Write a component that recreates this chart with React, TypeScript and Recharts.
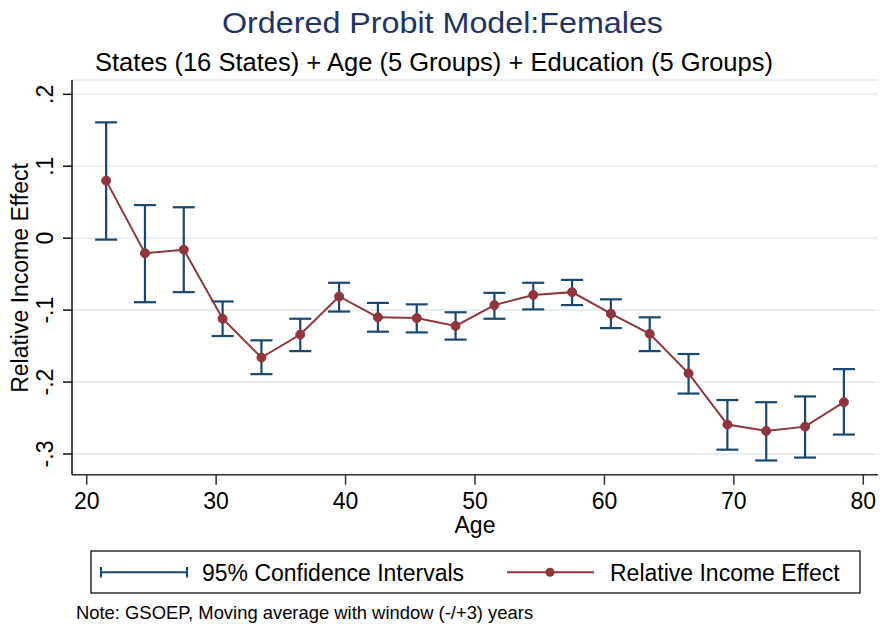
import { ComposedChart, Line, ErrorBar, XAxis, YAxis, CartesianGrid } from "recharts";

const ages = [21.5, 24.5, 27.5, 30.5, 33.5, 36.5, 39.5, 42.5, 45.5, 48.5, 51.5, 54.5, 57.5, 60.5, 63.5, 66.5, 69.5, 72.5, 75.5, 78.5];
const effect = [0.080, -0.021, -0.016, -0.112, -0.166, -0.134, -0.081, -0.110, -0.111, -0.122, -0.093, -0.079, -0.075, -0.105, -0.133, -0.188, -0.259, -0.268, -0.262, -0.228];
const ciLow = [-0.002, -0.089, -0.075, -0.136, -0.189, -0.157, -0.102, -0.130, -0.131, -0.141, -0.112, -0.099, -0.093, -0.125, -0.157, -0.216, -0.294, -0.309, -0.305, -0.273];
const ciHigh = [0.161, 0.046, 0.043, -0.088, -0.142, -0.112, -0.062, -0.090, -0.092, -0.103, -0.076, -0.062, -0.058, -0.085, -0.110, -0.161, -0.225, -0.228, -0.220, -0.182];

const xTicks = [20, 30, 40, 50, 60, 70, 80];
const yTicks = [0.2, 0.1, 0, -0.1, -0.2, -0.3];

const data = ages.map((age, i) => ({
  age,
  effect: effect[i],
  err: [effect[i] - ciLow[i], ciHigh[i] - effect[i]],
}));

const FONT = "'Liberation Sans', Arial, sans-serif";
const NAVY = "#1a476f";
const MAROON = "#90353b";

const fmtY = (v: number) => {
  if (Math.abs(v) < 1e-9) return "0";
  return (v < 0 ? "-" : "") + "." + Math.round(Math.abs(v) * 10);
};

// stata style: y tick labels are turned on their side
const YTick = (props: any) => {
  const { x, y, payload } = props;
  return (
    <text
      x={x}
      y={y}
      transform={`rotate(-90 ${x} ${y})`}
      textAnchor="middle"
      fontSize={23}
      fontFamily={FONT}
      fill="#000"
    >
      {fmtY(payload.value)}
    </text>
  );
};

export default function App() {
  return (
    <div style={{ position: "absolute", left: 0, top: 0, width: 882, height: 630, background: "#fff" }}>
      <ComposedChart
        width={882}
        height={630}
        data={data}
        margin={{ top: 80, right: 4, bottom: 95, left: 0 }}
      >
        <CartesianGrid vertical={false} stroke="#e6eff2" strokeWidth={2} />
        <XAxis
          dataKey="age"
          type="number"
          domain={[18.864, 81.136]}
          ticks={xTicks}
          allowDataOverflow
          height={60.3}
          tickSize={10}
          tickMargin={8}
          axisLine={{ stroke: "#333", strokeWidth: 1.5 }}
          tickLine={{ stroke: "#333", strokeWidth: 1.5 }}
          tick={{ fontSize: 23, fill: "#000", fontFamily: FONT }}
        />
        <YAxis
          type="number"
          domain={[-0.3288, 0.2199]}
          ticks={yTicks}
          allowDataOverflow
          width={72}
          tickSize={9}
          tickMargin={10}
          axisLine={{ stroke: "#111", strokeWidth: 1.5 }}
          tickLine={{ stroke: "#111", strokeWidth: 1.5 }}
          tick={<YTick />}
        />
        {/* CI bars drawn first so the line sits on top */}
        <Line dataKey="effect" stroke="none" dot={false} activeDot={false} isAnimationActive={false}>
          <ErrorBar dataKey="err" width={11} strokeWidth={2.2} stroke={NAVY} direction="y" isAnimationActive={false} />
        </Line>
        <Line
          dataKey="effect"
          stroke={MAROON}
          strokeWidth={2}
          dot={{ r: 4.5, fill: MAROON, stroke: MAROON, strokeWidth: 1 }}
          activeDot={false}
          isAnimationActive={false}
        />
      </ComposedChart>

      <svg
        width={882}
        height={630}
        style={{ position: "absolute", left: 0, top: 0, pointerEvents: "none" }}
        fontFamily={FONT}
      >
        <text x={442.5} y={33} textAnchor="middle" fontSize={29} fill="#1f3460" textLength={441} lengthAdjust="spacingAndGlyphs">
          Ordered Probit Model:Females
        </text>
        <text x={434} y={71} textAnchor="middle" fontSize={25} fill="#000" textLength={678} lengthAdjust="spacingAndGlyphs">
          States (16 States) + Age (5 Groups) + Education (5 Groups)
        </text>
        <text x={28} y={278} transform="rotate(-90 28 278)" textAnchor="middle" fontSize={23} fill="#000">
          Relative Income Effect
        </text>
        <text x={475} y={533} textAnchor="middle" fontSize={23} fill="#000">
          Age
        </text>

        <rect x={91} y={551} width={769} height={42} fill="none" stroke="#000" strokeWidth={1.2} />
        <line x1={101} y1={572.3} x2={187} y2={572.3} stroke={NAVY} strokeWidth={2} />
        <line x1={101} y1={567} x2={101} y2={577.5} stroke={NAVY} strokeWidth={2} />
        <line x1={187} y1={567} x2={187} y2={577.5} stroke={NAVY} strokeWidth={2} />
        <text x={202} y={580.5} fontSize={23} fill="#000">
          95% Confidence Intervals
        </text>
        <line x1={507} y1={572.3} x2={594} y2={572.3} stroke={MAROON} strokeWidth={2} />
        <circle cx={550} cy={572.3} r={4.5} fill={MAROON} />
        <text x={610} y={580.5} fontSize={23} fill="#000">
          Relative Income Effect
        </text>

        <text x={76} y={619} fontSize={18.4} fill="#000">
          Note: GSOEP, Moving average with window (-/+3) years
        </text>
      </svg>
    </div>
  );
}
